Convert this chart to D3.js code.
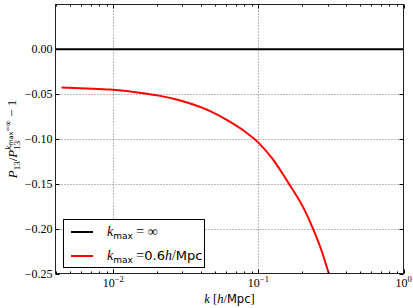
<!DOCTYPE html>
<html>
<head>
<meta charset="utf-8">
<script src="https://cdn.jsdelivr.net/npm/d3@7"></script>
<style>
  body { margin: 0; background: #fff; }
  svg { display: block; }
  .serif { font-family: "Liberation Serif", serif; }
  .sans { font-family: "DejaVu Sans", sans-serif; }
</style>
</head>
<body>
<div id="chart"></div>
<script>
// P13 ratio vs k, matplotlib-style log-x chart.

const kTrunc = [0.0044, 0.0065, 0.0095, 0.0161, 0.021, 0.0273, 0.0356, 0.0465, 0.0605, 0.0788, 0.1, 0.1237, 0.161, 0.21, 0.239, 0.273, 0.31];
const ratioTrunc = [-0.0427, -0.0437, -0.0449, -0.0489, -0.0519, -0.056, -0.0616, -0.0689, -0.0786, -0.0904, -0.104, -0.1211, -0.1489, -0.1804, -0.2008, -0.2249, -0.2535];
const kInf = [0.004, 1];
const ratioInf = [0, 0];

const xTicks = [0.01, 0.1, 1];
const xTickExps = ["\u22122", "\u22121", "0"];
const yTicks = [0, -0.05, -0.1, -0.15, -0.2, -0.25];
const yTickLabels = ["0.00", "\u22120.05", "\u22120.10", "\u22120.15", "\u22120.20", "\u22120.25"];

const WIDTH = 413;
const HEIGHT = 308;
const LEFT = 55.5, RIGHT = 403.5, TOP = 4.5, BOTTOM = 273.5;
const MAJOR = 4, MINOR = 2;

const svg = d3.select("#chart").append("svg")
    .attr("width", WIDTH)
    .attr("height", HEIGHT);

const x = d3.scaleLog().domain([0.004, 1]).range([LEFT, RIGHT]);
const y = d3.scaleLinear().domain([-0.25, 0.05]).range([BOTTOM, TOP]);

svg.append("clipPath").attr("id", "plot")
    .append("rect")
    .attr("x", LEFT).attr("y", TOP)
    .attr("width", RIGHT - LEFT).attr("height", BOTTOM - TOP);

// grid
const grid = svg.append("g")
    .attr("stroke", "#777")
    .attr("stroke-width", 1)
    .attr("stroke-dasharray", "1,2");
grid.selectAll("line.gx")
    .data(xTicks.filter(d => d < 1))
    .join("line")
    .attr("x1", d => Math.round(x(d)) + 0.5).attr("x2", d => Math.round(x(d)) + 0.5)
    .attr("y1", TOP).attr("y2", BOTTOM);
grid.selectAll("line.gy")
    .data(yTicks.filter(d => d > -0.25))
    .join("line")
    .attr("y1", d => Math.round(y(d)) + 0.5).attr("y2", d => Math.round(y(d)) + 0.5)
    .attr("x1", LEFT).attr("x2", RIGHT);

// lines
const line = d3.line()
    .x(d => x(d[0]))
    .y(d => y(d[1]))
    .curve(d3.curveMonotoneX);

const plot = svg.append("g").attr("clip-path", "url(#plot)");
plot.append("path")
    .datum(d3.zip(kInf, ratioInf))
    .attr("d", line)
    .attr("fill", "none")
    .attr("stroke", "#000")
    .attr("stroke-width", 2);
plot.append("path")
    .datum(d3.zip(kTrunc, ratioTrunc))
    .attr("d", line)
    .attr("fill", "none")
    .attr("stroke", "#ff0000")
    .attr("stroke-width", 2);

// ticks (inside, all four sides)
const minorX = [];
for (const dec of [0.001, 0.01, 0.1]) {
    for (let m = 2; m <= 9; m++) {
        const v = m * dec;
        if (v >= 0.004 && v <= 1) minorX.push(v);
    }
}
const ticks = svg.append("g").attr("stroke", "#000").attr("stroke-width", 1);
for (const [y0, dir] of [[BOTTOM, -1], [TOP, 1]]) {
    ticks.selectAll(null).data(xTicks).join("line")
        .attr("x1", d => Math.round(x(d)) + 0.5).attr("x2", d => Math.round(x(d)) + 0.5)
        .attr("y1", y0).attr("y2", y0 + dir * MAJOR);
    ticks.selectAll(null).data(minorX).join("line")
        .attr("x1", d => Math.round(x(d)) + 0.5).attr("x2", d => Math.round(x(d)) + 0.5)
        .attr("y1", y0).attr("y2", y0 + dir * MINOR);
}
for (const [x0, dir] of [[LEFT, 1], [RIGHT, -1]]) {
    ticks.selectAll(null).data(yTicks).join("line")
        .attr("y1", d => Math.round(y(d)) + 0.5).attr("y2", d => Math.round(y(d)) + 0.5)
        .attr("x1", x0).attr("x2", x0 + dir * MAJOR);
}

// frame
svg.append("rect")
    .attr("x", LEFT).attr("y", TOP)
    .attr("width", RIGHT - LEFT).attr("height", BOTTOM - TOP)
    .attr("fill", "none")
    .attr("stroke", "#222")
    .attr("stroke-width", 1);

// tick labels
svg.append("g").selectAll("text")
    .data(yTicks)
    .join("text")
    .attr("class", "serif")
    .attr("x", LEFT - 3)
    .attr("y", d => y(d) + 4)
    .attr("text-anchor", "end")
    .attr("font-size", 12)
    .text((d, i) => yTickLabels[i]);

const xLab = svg.append("g").selectAll("text")
    .data(xTicks)
    .join("text")
    .attr("class", "serif")
    .attr("x", d => x(d))
    .attr("y", 287)
    .attr("text-anchor", "middle")
    .attr("font-size", 12);
xLab.append("tspan").text("10");
xLab.append("tspan").attr("dy", -5).attr("font-size", 8.5).text((d, i) => xTickExps[i]);

// axis labels
const xTitle = svg.append("text")
    .attr("class", "serif")
    .attr("x", (LEFT + RIGHT) / 2)
    .attr("y", 303)
    .attr("text-anchor", "middle")
    .attr("font-size", 12.5);
xTitle.append("tspan").attr("font-style", "italic").text("k");
xTitle.append("tspan").text(" [");
xTitle.append("tspan").attr("font-style", "italic").text("h");
xTitle.append("tspan").text("/");
xTitle.append("tspan").attr("class", "sans").attr("font-size", 11.5).text("Mpc");
xTitle.append("tspan").text("]");

const yTitle = svg.append("text")
    .attr("class", "serif")
    .attr("transform", `translate(17,${(TOP + BOTTOM) / 2}) rotate(-90)`)
    .attr("text-anchor", "middle")
    .attr("font-size", 13);
yTitle.append("tspan").attr("font-style", "italic").text("P");
yTitle.append("tspan").attr("dy", 3).attr("font-size", 9).text("13");
yTitle.append("tspan").attr("dy", -3).text("/");
yTitle.append("tspan").attr("font-style", "italic").text("P");
yTitle.append("tspan").attr("dy", 3).attr("font-size", 9).text("13");
yTitle.append("tspan").attr("dy", -9).attr("dx", -9).attr("font-size", 9).attr("font-style", "italic").text("k");
yTitle.append("tspan").attr("dy", 1.5).attr("font-size", 6.5).attr("class", "sans").text("max");
yTitle.append("tspan").attr("dy", -1.5).attr("font-size", 9).text("=\u221e");
yTitle.append("tspan").attr("dy", 4.5).text(" \u2212 1");

// legend
const legendItems = [
    { color: "#000", value: " = \u221e" },
    { color: "#ff0000", value: "0.6" },
];
const legend = svg.append("g");
legend.append("rect")
    .attr("x", 63.5).attr("y", 219.5)
    .attr("width", 141).attr("height", 48)
    .attr("fill", "#fff")
    .attr("stroke", "#000")
    .attr("stroke-width", 1);
const rows = legend.selectAll("g.row")
    .data(legendItems)
    .join("g")
    .attr("transform", (d, i) => `translate(0,${232 + i * 24})`);
rows.append("line")
    .attr("x1", 71).attr("x2", 93)
    .attr("stroke", d => d.color)
    .attr("stroke-width", 2);
const lt = rows.append("text")
    .attr("class", "serif")
    .attr("x", 107)
    .attr("y", 4)
    .attr("font-size", 14);
lt.append("tspan").attr("font-style", "italic").text("k");
lt.append("tspan").attr("class", "sans").attr("dy", 3).attr("font-size", 9).text("max");
lt.each(function (d, i) {
    const t = d3.select(this);
    if (i === 0) {
        t.append("tspan").attr("dy", -3).text(" = \u221e");
    } else {
        t.append("tspan").attr("dy", -3).text(" =");
        t.append("tspan").attr("class", "sans").attr("font-size", 13).text(d.value);
        t.append("tspan").attr("font-style", "italic").text("h");
        t.append("tspan").text("/");
        t.append("tspan").attr("class", "sans").attr("font-size", 13).text("Mpc");
    }
});
</script>
</body>
</html>
